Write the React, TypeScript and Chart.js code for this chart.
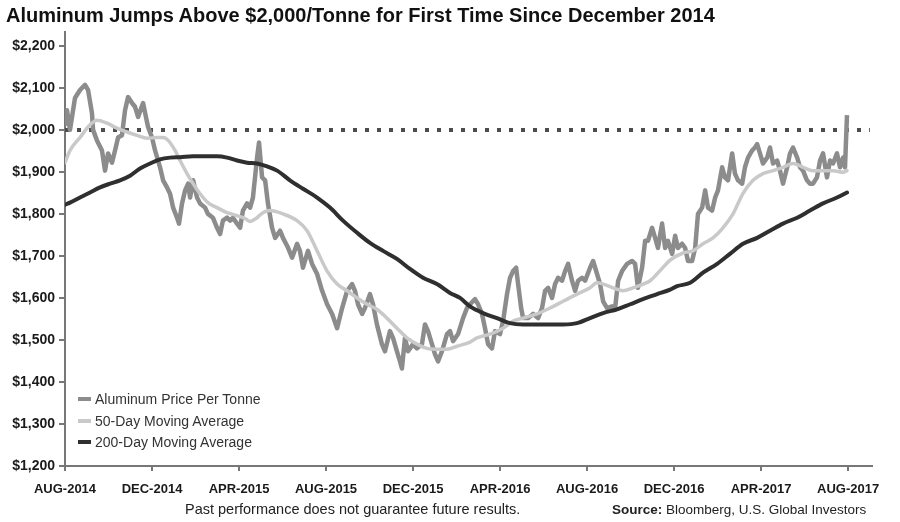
import React, { useEffect, useRef } from "react";
import { Chart, registerables } from "chart.js";

Chart.register(...registerables);

// ---- data (x = months since Aug 2014) ----
const xTickMonths = [0, 4, 8, 12, 16, 20, 24, 28, 32, 36];
const xTickLabels = [
  "AUG-2014", "DEC-2014", "APR-2015", "AUG-2015", "DEC-2015",
  "APR-2016", "AUG-2016", "DEC-2016", "APR-2017", "AUG-2017",
];
const yTicks = [1200, 1300, 1400, 1500, 1600, 1700, 1800, 1900, 2000, 2100, 2200];

const priceMonths = [
  0, 0.09, 0.23, 0.46, 0.69, 0.92, 1.06, 1.24, 1.29, 1.47, 1.7, 1.84, 1.98, 2.16, 2.3, 2.44, 2.62, 2.76, 2.9, 3.08,
  3.22, 3.36, 3.59, 3.72, 3.82, 4.0, 4.14, 4.37, 4.51, 4.69, 4.83, 4.97, 5.15, 5.24, 5.38, 5.52, 5.66, 5.75, 5.89, 6.07,
  6.21, 6.44, 6.57, 6.8, 6.99, 7.13, 7.26, 7.45, 7.59, 7.72, 7.91, 8.05, 8.18, 8.37, 8.51, 8.64, 8.83, 8.92, 9.06, 9.2,
  9.33, 9.52, 9.66, 9.89, 10.02, 10.25, 10.44, 10.67, 10.8, 10.94, 11.17, 11.36, 11.59, 11.82, 12.05, 12.28, 12.51, 12.74, 12.97, 13.2,
  13.33, 13.47, 13.66, 13.79, 14.02, 14.16, 14.34, 14.57, 14.71, 14.94, 15.08, 15.26, 15.4, 15.49, 15.63, 15.77, 16.0, 16.18, 16.41, 16.55,
  16.69, 16.87, 17.01, 17.15, 17.33, 17.56, 17.7, 17.84, 18.07, 18.3, 18.48, 18.62, 18.85, 18.99, 19.17, 19.31, 19.45, 19.63, 19.77, 20.0,
  20.14, 20.32, 20.46, 20.6, 20.74, 20.83, 20.97, 21.06, 21.29, 21.52, 21.75, 21.93, 22.07, 22.21, 22.39, 22.53, 22.67, 22.85, 22.99, 23.13,
  23.31, 23.45, 23.59, 23.77, 23.91, 24.14, 24.28, 24.46, 24.6, 24.74, 24.92, 25.15, 25.29, 25.43, 25.61, 25.84, 26.07, 26.21, 26.34, 26.53,
  26.67, 26.8, 26.99, 27.13, 27.26, 27.45, 27.59, 27.72, 27.91, 28.05, 28.18, 28.37, 28.51, 28.64, 28.83, 28.97, 29.1, 29.29, 29.43, 29.56,
  29.75, 29.89, 30.02, 30.21, 30.34, 30.48, 30.67, 30.8, 30.94, 31.13, 31.26, 31.4, 31.59, 31.72, 31.82, 31.95, 32.09, 32.28, 32.41, 32.55,
  32.74, 32.87, 33.01, 33.2, 33.33, 33.47, 33.66, 33.79, 33.93, 34.11, 34.25, 34.39, 34.57, 34.71, 34.85, 35.03, 35.17, 35.31, 35.49, 35.63,
  35.77, 35.86, 35.95,
];
const priceValues = [
  2010, 2047, 2000, 2076, 2095, 2107, 2095, 2040, 2000, 1975, 1951, 1903, 1944, 1922, 1951, 1982, 1987, 2047, 2078, 2064,
  2055, 2031, 2064, 2031, 2007, 1982, 1951, 1911, 1880, 1863, 1848, 1815, 1791, 1777, 1825, 1856, 1872, 1839, 1880, 1839,
  1825, 1815, 1800, 1791, 1767, 1752, 1784, 1791, 1784, 1791, 1777, 1767, 1808, 1825, 1815, 1839, 1934, 1970, 1887, 1880,
  1825, 1767, 1743, 1760, 1743, 1720, 1696, 1729, 1712, 1672, 1712, 1681, 1657, 1617, 1585, 1562, 1528, 1576, 1617, 1633,
  1617, 1585, 1562, 1576, 1609, 1585, 1537, 1490, 1473, 1521, 1505, 1473, 1449, 1432, 1505, 1473, 1490, 1480, 1490, 1537,
  1521, 1490, 1466, 1449, 1473, 1514, 1521, 1497, 1514, 1552, 1576, 1585, 1597, 1585, 1562, 1528, 1490, 1480, 1521, 1514,
  1545, 1609, 1648, 1664, 1672, 1633, 1576, 1552, 1552, 1562, 1552, 1576, 1617, 1624, 1600, 1633, 1648, 1641, 1664, 1681,
  1641, 1617, 1641, 1648, 1641, 1672, 1688, 1657, 1633, 1592, 1576, 1580, 1576, 1641, 1664, 1681, 1688, 1681, 1624, 1672,
  1736, 1736, 1767, 1743, 1719, 1777, 1719, 1736, 1705, 1748, 1719, 1729, 1719, 1688, 1688, 1719, 1800, 1815, 1856, 1815,
  1808, 1839, 1856, 1911, 1887, 1880, 1944, 1896, 1880, 1872, 1911, 1934, 1951, 1958, 1966, 1944, 1920, 1934, 1958, 1920,
  1927, 1903, 1872, 1911, 1944, 1958, 1934, 1911, 1903, 1880, 1872, 1872, 1887, 1927, 1944, 1887, 1927, 1920, 1944, 1911,
  1934, 1911, 2035,
];

const ma50Months = [
  0, 0.23, 0.69, 1.15, 1.47, 1.93, 2.39, 2.85, 3.31, 3.77, 4.23, 4.51, 4.74, 5.06, 5.29, 5.61, 5.89, 6.21, 6.57, 6.99,
  7.45, 7.91, 8.28, 8.51, 8.83, 9.1, 9.43, 10.02, 10.67, 11.13, 11.59, 12.05, 12.51, 12.97, 13.43, 13.89, 14.34, 14.8, 15.26, 15.72,
  16.18, 16.64, 17.1, 17.56, 18.02, 18.62, 18.94, 19.54, 20.14, 20.6, 21.06, 21.7, 22.3, 22.9, 23.54, 24.14, 24.46, 24.74, 25.2, 25.66,
  26.11, 26.57, 26.9, 27.36, 27.82, 28.41, 28.87, 29.33, 29.79, 30.25, 30.71, 31.17, 31.63, 32.09, 32.55, 33.01, 33.47, 33.93, 34.39, 34.85,
  35.31, 35.77, 35.95,
];
const ma50Values = [
  1922, 1951, 1982, 2012, 2023, 2016, 2004, 1995, 1987, 1980, 1982, 1982, 1975, 1951, 1927, 1896, 1872, 1848, 1827, 1815,
  1803, 1796, 1789, 1782, 1791, 1803, 1808, 1800, 1784, 1760, 1712, 1664, 1633, 1617, 1600, 1585, 1573, 1552, 1528, 1505,
  1490, 1480, 1478, 1478, 1485, 1495, 1505, 1514, 1528, 1545, 1552, 1562, 1576, 1592, 1609, 1624, 1636, 1633, 1624, 1617,
  1624, 1633, 1641, 1665, 1690, 1707, 1712, 1729, 1743, 1767, 1800, 1849, 1880, 1896, 1903, 1911, 1920, 1911, 1903, 1903,
  1903, 1899, 1903,
];

const ma200Months = [
  0, 0.23, 0.69, 1.15, 1.61, 2.07, 2.53, 2.99, 3.45, 3.91, 4.37, 4.83, 5.29, 5.89, 6.53, 6.99, 7.45, 7.91, 8.37, 8.83,
  9.29, 9.75, 10.34, 10.94, 11.59, 12.18, 12.78, 13.43, 14.02, 14.62, 15.26, 15.86, 16.46, 17.1, 17.7, 18.16, 18.62, 19.22, 19.86, 20.46,
  21.06, 21.7, 22.3, 22.9, 23.54, 24.14, 24.74, 25.38, 25.98, 26.57, 27.22, 27.82, 28.14, 28.74, 29.33, 29.98, 30.57, 31.17, 31.82, 32.41,
  33.01, 33.66, 34.25, 34.85, 35.49, 35.95,
];
const ma200Values = [
  1822, 1827, 1839, 1851, 1863, 1872, 1880, 1891, 1908, 1920, 1930, 1934, 1935, 1937, 1937, 1937, 1934, 1927, 1922, 1920,
  1913, 1903, 1880, 1860, 1839, 1815, 1784, 1755, 1731, 1712, 1693, 1669, 1648, 1633, 1612, 1600, 1580, 1564, 1552, 1540,
  1537, 1537, 1537, 1537, 1540, 1552, 1564, 1573, 1585, 1597, 1609, 1620, 1628, 1636, 1660, 1681, 1705, 1729, 1743, 1760,
  1777, 1791, 1808, 1825, 1839, 1851,
];

const thresholdValue = 2000;
const thresholdMonths = [0, 37.0];

const seriesNames = ["Aluminum Price Per Tonne", "50-Day Moving Average", "200-Day Moving Average"];
const seriesColors = ["#8c8c8c", "#c9c9c9", "#2f2f2f"];

const FONT = "'Liberation Sans', Arial, sans-serif";

function pts(xs: number[], ys: number[]) {
  return xs.map((x, i) => ({ x, y: ys[i] }));
}

export default function App() {
  const ref = useRef<HTMLCanvasElement | null>(null);

  useEffect(() => {
    document.body.style.margin = "0";
    const canvas = ref.current;
    if (!canvas) return;
    const chart = new Chart(canvas, {
      type: "line",
      data: {
        datasets: [
          {
            label: seriesNames[2],
            data: pts(ma200Months, ma200Values),
            borderColor: seriesColors[2],
            borderWidth: 4,
            pointRadius: 0,
            cubicInterpolationMode: "monotone",
            borderCapStyle: "round",
          },
          {
            label: seriesNames[1],
            data: pts(ma50Months, ma50Values),
            borderColor: seriesColors[1],
            borderWidth: 3.5,
            pointRadius: 0,
            cubicInterpolationMode: "monotone",
            borderCapStyle: "round",
          },
          {
            label: seriesNames[0],
            data: pts(priceMonths, priceValues),
            borderColor: seriesColors[0],
            borderWidth: 4.5,
            pointRadius: 0,
            tension: 0,
            borderJoinStyle: "round",
          },
          {
            label: "threshold",
            data: thresholdMonths.map((x) => ({ x, y: thresholdValue })),
            borderColor: "#4d4d4d",
            borderWidth: 4,
            borderDash: [4, 8],
            pointRadius: 0,
          },
        ],
      },
      options: {
        animation: false,
        responsive: false,
        devicePixelRatio: 1,
        layout: { padding: { top: 32, right: 28, left: 0, bottom: 0 } },
        plugins: { legend: { display: false }, tooltip: { enabled: false } },
        scales: {
          x: {
            type: "linear",
            min: 0,
            max: 37.1,
            afterBuildTicks: (s: any) => {
              s.ticks = xTickMonths.map((v) => ({ value: v }));
            },
            afterFit: (s: any) => {
              s.height = 56;
            },
            ticks: {
              autoSkip: false,
              maxRotation: 0,
              padding: 11,
              color: "#1a1a1a",
              font: { family: FONT, size: 13, weight: "bold" },
              callback: (v: any) => {
                const i = xTickMonths.indexOf(Number(v));
                return i >= 0 ? xTickLabels[i] : "";
              },
            },
            grid: { drawOnChartArea: false, drawTicks: true, tickLength: 5, color: "#777", lineWidth: 2 },
            border: { display: true, color: "#777", width: 2 },
          },
          y: {
            type: "linear",
            min: 1200,
            max: 2233,
            afterBuildTicks: (s: any) => {
              s.ticks = yTicks.map((v) => ({ value: v }));
            },
            afterFit: (s: any) => {
              s.width = 65;
            },
            ticks: {
              padding: 4,
              color: "#1a1a1a",
              font: { family: FONT, size: 14, weight: "bold" },
              callback: (v: any) => "$" + Number(v).toLocaleString("en-US"),
            },
            grid: { drawOnChartArea: false, drawTicks: true, tickLength: 6, color: "#777", lineWidth: 2 },
            border: { display: true, color: "#777", width: 2 },
          },
        },
      },
    });
    return () => chart.destroy();
  }, []);

  const legendRows = [0, 1, 2];

  return (
    <div style={{ position: "relative", width: 900, height: 522, background: "#fff", overflow: "hidden", fontFamily: FONT }}>
      <canvas ref={ref} width={900} height={522} style={{ position: "absolute", left: 0, top: 0, width: 900, height: 522 }} />
      <div
        style={{
          position: "absolute",
          left: 6,
          top: 4,
          fontSize: 20,
          fontWeight: 900,
          color: "#111",
          whiteSpace: "nowrap",
        }}
      >
        Aluminum Jumps Above $2,000/Tonne for First Time Since December 2014
      </div>
      <div style={{ position: "absolute", left: 78, top: 388 }}>
        {legendRows.map((i) => (
          <div key={i} style={{ display: "flex", alignItems: "center", height: 21.7 }}>
            <span style={{ display: "inline-block", width: 13, height: 4, background: seriesColors[i], marginRight: 4 }} />
            <span style={{ fontSize: 14, color: "#333", whiteSpace: "nowrap" }}>{seriesNames[i]}</span>
          </div>
        ))}
      </div>
      <div style={{ position: "absolute", left: 185, top: 501, fontSize: 14.5, color: "#222", whiteSpace: "nowrap" }}>
        Past performance does not guarantee future results.
      </div>
      <div style={{ position: "absolute", left: 612, top: 502, fontSize: 13.5, color: "#222", whiteSpace: "nowrap" }}>
        <b>Source:</b> Bloomberg, U.S. Global Investors
      </div>
    </div>
  );
}
